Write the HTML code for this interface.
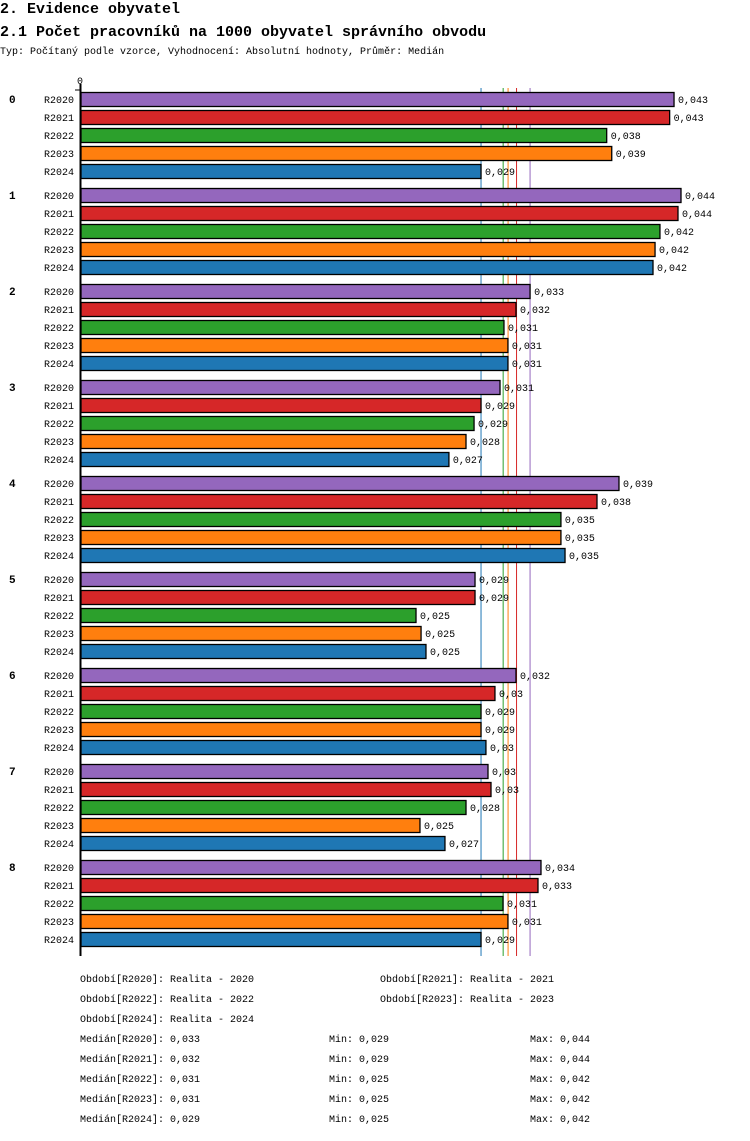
<!DOCTYPE html>
<html><head><meta charset="utf-8"><style>
body{margin:0;background:#fff;width:750px;height:1136px;overflow:hidden}
svg text{font-family:"Liberation Mono",monospace;fill:#000}
</style></head><body>
<svg id="chart" width="750" height="1136" xmlns="http://www.w3.org/2000/svg">
<text x="0" y="13" font-size="15" font-weight="bold">2. Evidence obyvatel</text>
<text x="0" y="36" font-size="15" font-weight="bold">2.1 Počet pracovníků na 1000 obyvatel správního obvodu</text>
<text x="0" y="54" font-size="10">Typ: Počítaný podle vzorce, Vyhodnocení: Absolutní hodnoty, Průměr: Medián</text>
<g id="medians"></g>
<g id="bars"></g>
<g id="legend"></g>
</svg>
<script>
const groups = ["0","1","2","3","4","5","6","7","8"];
const series = ["R2020","R2021","R2022","R2023","R2024"];
const colors = ["#9467bd","#d62728","#2ca02c","#ff7f0e","#1f77b4"];
const v2020 = [0.04349,0.0440,0.03295,0.03075,0.03946,0.02892,0.03192,0.02987,0.03375];
const v2021 = [0.04317,0.04378,0.03192,0.02936,0.03785,0.02892,0.03038,0.03009,0.03353];
const v2022 = [0.03856,0.04246,0.03104,0.02885,0.03521,0.0246,0.02936,0.02826,0.03097];
const v2023 = [0.03893,0.0421,0.03133,0.02826,0.03521,0.02497,0.02936,0.02489,0.03133];
const v2024 = [0.02936,0.04195,0.03133,0.02701,0.03551,0.02533,0.02972,0.02672,0.02936];
const l2020 = ["0,043","0,044","0,033","0,031","0,039","0,029","0,032","0,03","0,034"];
const l2021 = ["0,043","0,044","0,032","0,029","0,038","0,029","0,03","0,03","0,033"];
const l2022 = ["0,038","0,042","0,031","0,029","0,035","0,025","0,029","0,028","0,031"];
const l2023 = ["0,039","0,042","0,031","0,028","0,035","0,025","0,029","0,025","0,031"];
const l2024 = ["0,029","0,042","0,031","0,027","0,035","0,025","0,03","0,027","0,029"];
const medians = [0.03295,0.03196,0.03098,0.03134,0.02936];
const medianLabels = ["0,033","0,032","0,031","0,031","0,029"];
const minLabels = ["0,029","0,029","0,025","0,025","0,025"];
const maxLabels = ["0,044","0,044","0,042","0,042","0,042"];
const values = [v2020,v2021,v2022,v2023,v2024];
const labels = [l2020,l2021,l2022,l2023,l2024];

const NS="http://www.w3.org/2000/svg";
const x0=80, k=13659;
const xs = v => x0 + v*k;
const rowY = (g,s) => 92 + g*96 + s*18;
function mk(tag, attrs, parent, text){
  const e=document.createElementNS(NS,tag);
  for(const a in attrs) e.setAttribute(a,attrs[a]);
  if(text!==undefined) e.textContent=text;
  parent.appendChild(e); return e;
}
const svg=document.getElementById('chart');
const medG=document.getElementById('medians');
const barG=document.getElementById('bars');
const legG=document.getElementById('legend');

medians.forEach((m,i)=>{
  const l=mk('line',{x1:xs(m),x2:xs(m),y1:88,y2:956,stroke:colors[i],'stroke-width':1},medG);
  
  
});

const ax=mk('line',{x1:80.5,x2:80.5,y1:84,y2:956,stroke:'#000','stroke-width':2},svg);


const tk=mk('line',{x1:75,x2:81,y1:90,y2:90,stroke:'#000','stroke-width':1},svg);


const tl=mk('text',{x:77,y:84,'font-size':10},svg,'0');



groups.forEach((g,gi)=>{
  const gt=mk('text',{x:9,y:rowY(gi,0)+11,'font-size':11,'font-weight':'bold'},barG,g);
  
  
  series.forEach((s,si)=>{
    const y=rowY(gi,si);
    const st=mk('text',{x:74,y:y+11,'font-size':10,'text-anchor':'end'},barG,s);
    
    
    const v=values[si][gi];
    const r=mk('rect',{x:81,y:y+0.5,width:xs(v)-81,height:14,fill:colors[si],stroke:'#000','stroke-width':1.3},barG);
    
    
    const vt=mk('text',{x:xs(v)+4,y:y+11,'font-size':10},barG,labels[si][gi]);
    
    
  });
});

const per=[[80,982,0],[380,982,1],[80,1002,2],[380,1002,3],[80,1022,4]];
per.forEach(p=>{
  const t=mk('text',{x:p[0],y:p[1],'font-size':10},legG,'Období['+series[p[2]]+']: Realita - '+series[p[2]].slice(1));
  
  
});
series.forEach((s,i)=>{
  const y=1042+i*20;
  const a=mk('text',{x:80,y:y,'font-size':10},legG,'Medián['+s+']: '+medianLabels[i]);
  
  
  const b=mk('text',{x:329,y:y,'font-size':10},legG,'Min: '+minLabels[i]);
  
  
  const c=mk('text',{x:530,y:y,'font-size':10},legG,'Max: '+maxLabels[i]);
  
  
});
</script>
</body></html>
